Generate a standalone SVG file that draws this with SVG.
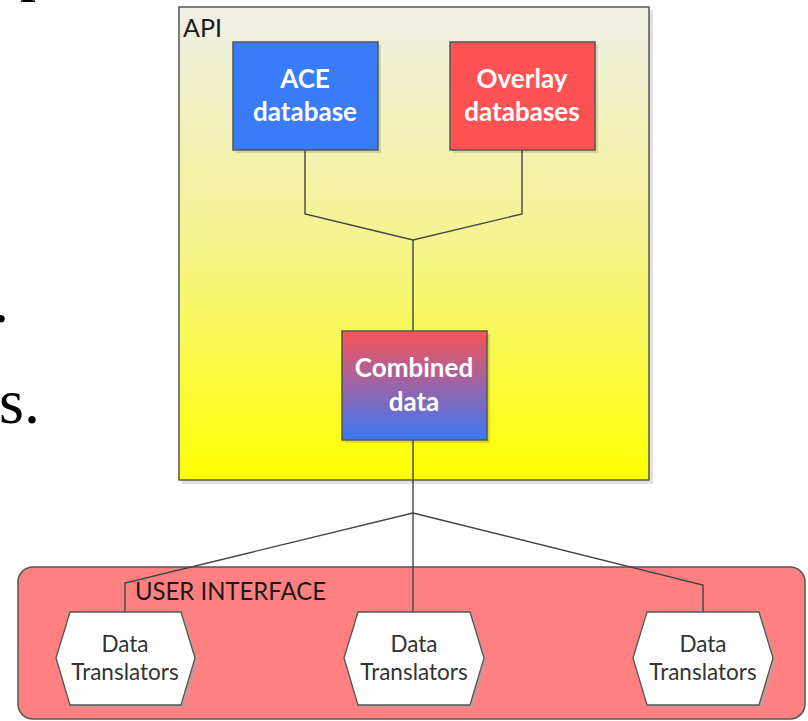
<svg xmlns="http://www.w3.org/2000/svg" width="808" height="721" viewBox="0 0 808 721">
<style>
.frag{font-family:"Liberation Serif",serif;font-size:64px;fill:#000}
.box{stroke:#555;stroke-width:1.5}
.wt{font-family:Lato,"Open Sans",sans-serif;font-weight:bold;font-size:26px;fill:#fff;text-anchor:middle}
.lbl{font-family:Lato,"Open Sans",sans-serif;font-size:25px;fill:#1a1a1a}
.hex{fill:#fff;stroke:#555;stroke-width:1.3}
.hs{fill:#d49494}
.ht{font-family:Lato,"Open Sans",sans-serif;font-size:22.5px;fill:#333;text-anchor:middle}
.conn{fill:none;stroke:#444;stroke-width:1.4}
.sh{fill:#000;opacity:0.12}
</style>
<defs>
<linearGradient id="apiG" x1="0" y1="0" x2="0" y2="1">
<stop offset="0" stop-color="#efefe8"/>
<stop offset="0.5" stop-color="#f5f48e"/>
<stop offset="1" stop-color="#ffff00"/>
</linearGradient>
<linearGradient id="combG" x1="0" y1="0" x2="0" y2="1">
<stop offset="0" stop-color="#f85456"/>
<stop offset="0.5" stop-color="#9a64a8"/>
<stop offset="1" stop-color="#3b78f6"/>
</linearGradient>
</defs>
<rect width="808" height="721" fill="#fff"/>
<text class="frag" x="20" y="-12">p</text>
<text class="frag" x="-7" y="322">.</text>
<text class="frag" x="-1" y="423">s.</text>
<g id="api">
<rect class="sh" x="182" y="10" width="471" height="474"/>
<rect class="box" x="179" y="7" width="470" height="473" fill="url(#apiG)"/>
<text class="lbl" x="183" y="37" font-size="26">API</text>
</g>
<g id="ui">
<rect x="18" y="567" width="787" height="152" rx="15" fill="#ff8080" stroke="#555" stroke-width="1.5"/>
<text class="lbl" x="135" y="600" textLength="191" lengthAdjust="spacingAndGlyphs">USER INTERFACE</text>
</g>
<g id="connectors">
<polyline class="conn" points="305,150 305,214 413,240 522,214 522,150"/>
<line class="conn" x1="413" y1="240" x2="413" y2="331"/>
<line class="conn" x1="413" y1="440" x2="413" y2="612"/>
<polyline class="conn" points="413,513 125,583 125,612"/>
<polyline class="conn" points="413,513 703,585 703,612"/>
</g>
<g id="ace">
<rect class="sh" x="236" y="45" width="145" height="108"/>
<rect class="box" x="233" y="42" width="145" height="108" fill="#3a7bf8"/>
<text class="wt" x="305" y="88">ACE</text>
<text class="wt" x="305" y="121">database</text>
</g>
<g id="overlay">
<rect class="sh" x="453" y="45" width="145" height="108"/>
<rect class="box" x="450" y="42" width="145" height="108" fill="#ff5252"/>
<text class="wt" x="522" y="88">Overlay</text>
<text class="wt" x="522" y="121">databases</text>
</g>
<g id="combined">
<rect class="sh" x="345" y="334" width="145" height="109"/>
<rect class="box" x="342" y="331" width="145" height="109" fill="url(#combG)"/>
<text class="wt" x="414" y="377">Combined</text>
<text class="wt" x="414" y="411">data</text>
</g>
<g id="dt1">
<polygon class="hs" points="73,615 184,615 198,661 184,708 73,708 59,661"/>
<polygon class="hex" points="70,612 181,612 195,658 181,705 70,705 56,658"/>
<text class="ht" x="125" y="652">Data</text>
<text class="ht" x="125" y="680">Translators</text>
</g>
<g id="dt2">
<polygon class="hs" points="361,615 473,615 487,661 473,708 361,708 347,661"/>
<polygon class="hex" points="358,612 470,612 484,658 470,705 358,705 344,658"/>
<text class="ht" x="414" y="652">Data</text>
<text class="ht" x="414" y="680">Translators</text>
</g>
<g id="dt3">
<polygon class="hs" points="650,615 762,615 776,661 762,708 650,708 636,661"/>
<polygon class="hex" points="647,612 759,612 773,658 759,705 647,705 633,658"/>
<text class="ht" x="703" y="652">Data</text>
<text class="ht" x="703" y="680">Translators</text>
</g>
</svg>
